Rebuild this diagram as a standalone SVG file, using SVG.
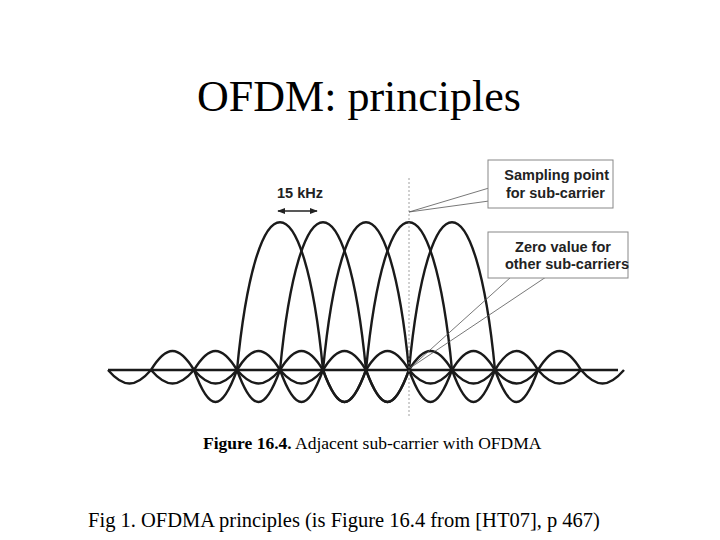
<svg xmlns="http://www.w3.org/2000/svg" width="720" height="540" viewBox="0 0 720 540">
<style>
.c{fill:none;stroke:#1a1a1a;stroke-width:2.4;stroke-linejoin:round}
.box{fill:#fff;stroke:#888;stroke-width:1}
.lead{stroke:#555;stroke-width:0.8;fill:none}
.lab{font-family:"Liberation Sans",Arial,sans-serif;font-weight:bold;font-size:14.5px;fill:#222}
.serif{font-family:"Liberation Serif","Times New Roman",serif;fill:#000}
</style>
<defs>
<path id="sinc" d="M-172 0 C-156.5 18 -144.5 18 -129 0 C-113.5 -25.3 -101.5 -25.3 -86 0 C-70.5 42.7 -58.5 42.7 -43 0 C-24 -197 24 -197 43 0 C58.5 42.7 70.5 42.7 86 0 C101.5 -25.3 113.5 -25.3 129 0 C144.5 18 156.5 18 172 0"/>
<marker id="ah" viewBox="0 0 10 10" refX="9" refY="5" markerWidth="5" markerHeight="5" orient="auto-start-reverse"><path d="M0 1 L10 5 L0 9 z" fill="#222"/></marker>
</defs>
<rect width="720" height="540" fill="#fff"/>
<text class="serif" x="359" y="111" font-size="44" text-anchor="middle">OFDM: principles</text>
<g id="curves">
<line x1="108" y1="370" x2="618" y2="370" stroke="#1a1a1a" stroke-width="2.4"/>
<use href="#sinc" class="c" transform="translate(280 370)"/>
<use href="#sinc" class="c" transform="translate(323 370)"/>
<use href="#sinc" class="c" transform="translate(366 370)"/>
<use href="#sinc" class="c" transform="translate(409 370)"/>
<use href="#sinc" class="c" transform="translate(452 370)"/>
<line x1="409" y1="178" x2="409" y2="418" stroke="#888" stroke-width="0.8" stroke-dasharray="2 2"/>
</g>
<g id="spacing">
<text class="lab" x="300" y="198" text-anchor="middle">15 kHz</text>
<line x1="278" y1="211" x2="317" y2="211" stroke="#222" stroke-width="1.6" marker-start="url(#ah)" marker-end="url(#ah)"/>
</g>
<g id="connectors">
<path class="lead" d="M489 188 L409 212 L489 201"/>
<path class="lead" d="M511 277 L410 368 L546 277"/>
</g>
<g id="sampling">
<rect class="box" x="488" y="160" width="125" height="48"/>
<text class="lab" x="609" y="180" text-anchor="end">Sampling point</text>
<text class="lab" x="605" y="198" text-anchor="end">for sub-carrier</text>
</g>
<g id="zero">
<rect class="box" x="488" y="232" width="140" height="46"/>
<text class="lab" x="563" y="252" text-anchor="middle">Zero value for</text>
<text class="lab" x="567" y="269" text-anchor="middle">other sub-carriers</text>
</g>
<text class="serif" x="203" y="449" font-size="17.5"><tspan font-weight="bold">Figure 16.4.</tspan> Adjacent sub-carrier with OFDMA</text>
<text class="serif" x="344" y="527" font-size="20.5" text-anchor="middle">Fig 1. OFDMA principles (is Figure 16.4 from [HT07], p 467)</text>
</svg>
